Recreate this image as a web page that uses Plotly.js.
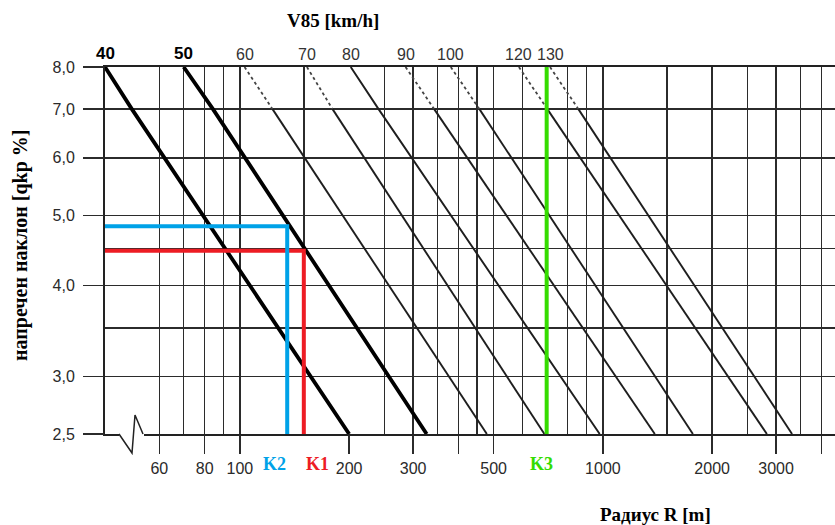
<!DOCTYPE html>
<html>
<head>
<meta charset="utf-8">
<script src="https://cdn.plot.ly/plotly-3.0.1.min.js"></script>
<style>html,body{margin:0;padding:0;background:#fff;}#chart{width:835px;height:525px;}</style>
</head>
<body>
<div id="chart"></div>
<script>
// ---- data ----
const speeds    = [40, 50, 60, 70, 80, 90, 100, 120, 130];        // V85 [km/h]
const rTop      = [42.5, 70, 103, 153, 202, 286, 381, 587, 715];  // R [m] at q = 8.0
const rAtQ7     = [50.4, 84.3, 123, 180, 241, 343, 457, 703, 856]; // R [m] at q = 7.0
const rBottom   = [200, 327, 479, 690, 980, 1390, 1770, 2830, 3320]; // R [m] at q = 2.5
const dottedTop = [false, false, true, true, false, true, true, true, true];
const heavy     = [true, true, false, false, false, false, false, false, false];

const qTop = 8.0, qSeven = 7.0, qBottom = 2.5;

const gridR   = [60,70,80,90,100,150,250,300,350,400,450,500,600,700,800,900,1000,1500,2000,2500,3000,3500,4000];
const tickR   = [60,80,100,200,300,400,500,1000,2000,3000,4000];
const tickRTx = ['60','80','100','200','300','','500','1000','2000','3000',''];
const gridQ   = [2.5,3.0,3.5,4.0,4.5,5.0,6.0,7.0,8.0];
const tickQ   = [2.5,3.0,4.0,5.0,6.0,7.0,8.0];
const tickQTx = ['2,5','3,0','4,0','5,0','6,0','7,0','8,0'];

const kNames  = ['K1', 'K2', 'K3'];
const kR      = [150, 135, 700];
const kQ      = [4.47, 4.83, null];   // null: vertical line over the full height
const kColors = ['#ed1c24', '#00a2e8', '#35dc00'];

// ---- layout constants ----
const W = 835, H = 525;
const M = {l: 105, r: 0, t: 67, b: 91};
const xRange = [Math.log10(42.5), Math.log10(42.5) + 730 / 363];
const yRange = [Math.log10(2.5), Math.log10(8)];
const xMin = Math.pow(10, xRange[0]);

const traces = [];
speeds.forEach((v, i) => {
  const lineStyle = heavy[i] ? {color: '#000', width: 3.8} : {color: '#1e1e1e', width: 1.9};
  if (dottedTop[i]) {
    traces.push({type: 'scatter', mode: 'lines', x: [rTop[i], rAtQ7[i]], y: [qTop, qSeven],
      line: {color: '#444', width: 1.8, dash: 'dot'}, hoverinfo: 'skip', showlegend: false});
    traces.push({type: 'scatter', mode: 'lines', x: [rAtQ7[i], rBottom[i]], y: [qSeven, qBottom],
      line: lineStyle, hoverinfo: 'skip', showlegend: false});
  } else {
    traces.push({type: 'scatter', mode: 'lines', x: [rTop[i], rAtQ7[i], rBottom[i]], y: [qTop, qSeven, qBottom],
      line: lineStyle, hoverinfo: 'skip', showlegend: false});
  }
});

kNames.forEach((k, i) => {
  const xs = kQ[i] === null ? [kR[i], kR[i]] : [xMin * 0.985, kR[i], kR[i]];
  const ys = kQ[i] === null ? [qTop, qBottom] : [kQ[i], kQ[i], qBottom];
  traces.push({type: 'scatter', mode: 'lines', x: xs, y: ys, xaxis: 'x2', yaxis: 'y2',
    line: {color: kColors[i], width: 4}, hoverinfo: 'skip', showlegend: false, cliponaxis: false});
});

const serif = 'Liberation Serif, Times New Roman, serif';
const sans = 'Liberation Sans, Arial, sans-serif';

const annotations = [];
speeds.forEach((v, i) => {
  annotations.push({xref: 'x', yref: 'paper', x: Math.log10(rTop[i]), y: 1, yanchor: 'bottom', yshift: 2,
    xanchor: 'center', showarrow: false,
    text: heavy[i] ? '<b>' + v + '</b>' : String(v),
    font: {family: sans, size: heavy[i] ? 17 : 16, color: heavy[i] ? '#000' : '#333'}});
});
const kAnchor = ['left', 'right', 'center'];
const kShift  = [0, 1, -5];
kNames.forEach((k, i) => {
  annotations.push({xref: 'x', yref: 'paper', x: Math.log10(kR[i]), y: 0, yanchor: 'top', yshift: -18,
    xanchor: kAnchor[i], xshift: kShift[i], showarrow: false, text: '<b>' + k + '</b>',
    font: {family: serif, size: 18, color: kColors[i]}});
});
annotations.push({xref: 'paper', yref: 'paper', x: (333 - M.l) / 730, y: 1 + (67 - 20) / 367,
  xanchor: 'center', yanchor: 'middle', showarrow: false, text: '<b>V85 [km/h]</b>',
  font: {family: serif, size: 19, color: '#000'}});
annotations.push({xref: 'paper', yref: 'paper', x: (655 - M.l) / 730, y: -(514 - 434) / 367,
  xanchor: 'center', yanchor: 'middle', showarrow: false, text: '<b>Радиус R [m]</b>',
  font: {family: serif, size: 19, color: '#000'}});
annotations.push({xref: 'paper', yref: 'paper', x: (20 - M.l) / 730, y: (434 - 246) / 367,
  xanchor: 'center', yanchor: 'middle', showarrow: false, textangle: -90,
  text: '<b>напречен наклон [qkp %]</b>', font: {family: serif, size: 20, color: '#000'}});

const px = (p) => (p - M.l) / 730;
const py = (p) => (434 - p) / 367;
const shapes = [
  // axis break on the bottom line
  {type: 'rect', xref: 'paper', yref: 'paper', x0: px(119), x1: px(144), y0: py(436.5), y1: py(431.5),
   fillcolor: '#fff', line: {width: 0}, layer: 'above'},
  {type: 'path', xref: 'paper', yref: 'paper', layer: 'above',
   path: `M ${px(119)} 0 L ${px(132)} ${py(453)} L ${px(135)} ${py(415)} L ${px(143)} 0`,
   line: {color: '#222', width: 1.5}}
];

const layout = {
  width: W, height: H, margin: M,
  paper_bgcolor: '#fff', plot_bgcolor: '#fff',
  showlegend: false,
  xaxis: {type: 'log', range: xRange, tickmode: 'array', tickvals: gridR, showticklabels: false, ticks: '',
    showgrid: true, gridcolor: '#2b2b2b', gridwidth: 1.5, zeroline: false,
    showline: true, mirror: true, linecolor: '#222', linewidth: 1.6, fixedrange: true},
  yaxis: {type: 'log', range: yRange, tickmode: 'array', tickvals: gridQ, showticklabels: false, ticks: '',
    showgrid: true, gridcolor: '#2b2b2b', gridwidth: 1.5, zeroline: false,
    showline: true, linecolor: '#222', linewidth: 1.6, fixedrange: true},
  xaxis2: {type: 'log', range: xRange, overlaying: 'x', anchor: 'y2', side: 'bottom',
    tickmode: 'array', tickvals: tickR, ticktext: tickRTx, ticks: 'outside', ticklen: 19, tickwidth: 1.5,
    tickcolor: '#2b2b2b', showgrid: false, zeroline: false, showline: false, ticklabelstandoff: 1,
    tickfont: {family: sans, size: 16, color: '#2a2a2a'}, fixedrange: true},
  yaxis2: {type: 'log', range: yRange, overlaying: 'y', anchor: 'x2', side: 'left',
    tickmode: 'array', tickvals: tickQ, ticktext: tickQTx, ticks: 'outside', ticklen: 21, tickwidth: 1.5,
    tickcolor: '#2b2b2b', showgrid: false, zeroline: false, showline: false, ticklabelstandoff: 5,
    tickfont: {family: sans, size: 16, color: '#2a2a2a'}, fixedrange: true},
  annotations: annotations,
  shapes: shapes
};

Plotly.newPlot('chart', traces, layout, {displayModeBar: false, staticPlot: true});
</script>
</body>
</html>
